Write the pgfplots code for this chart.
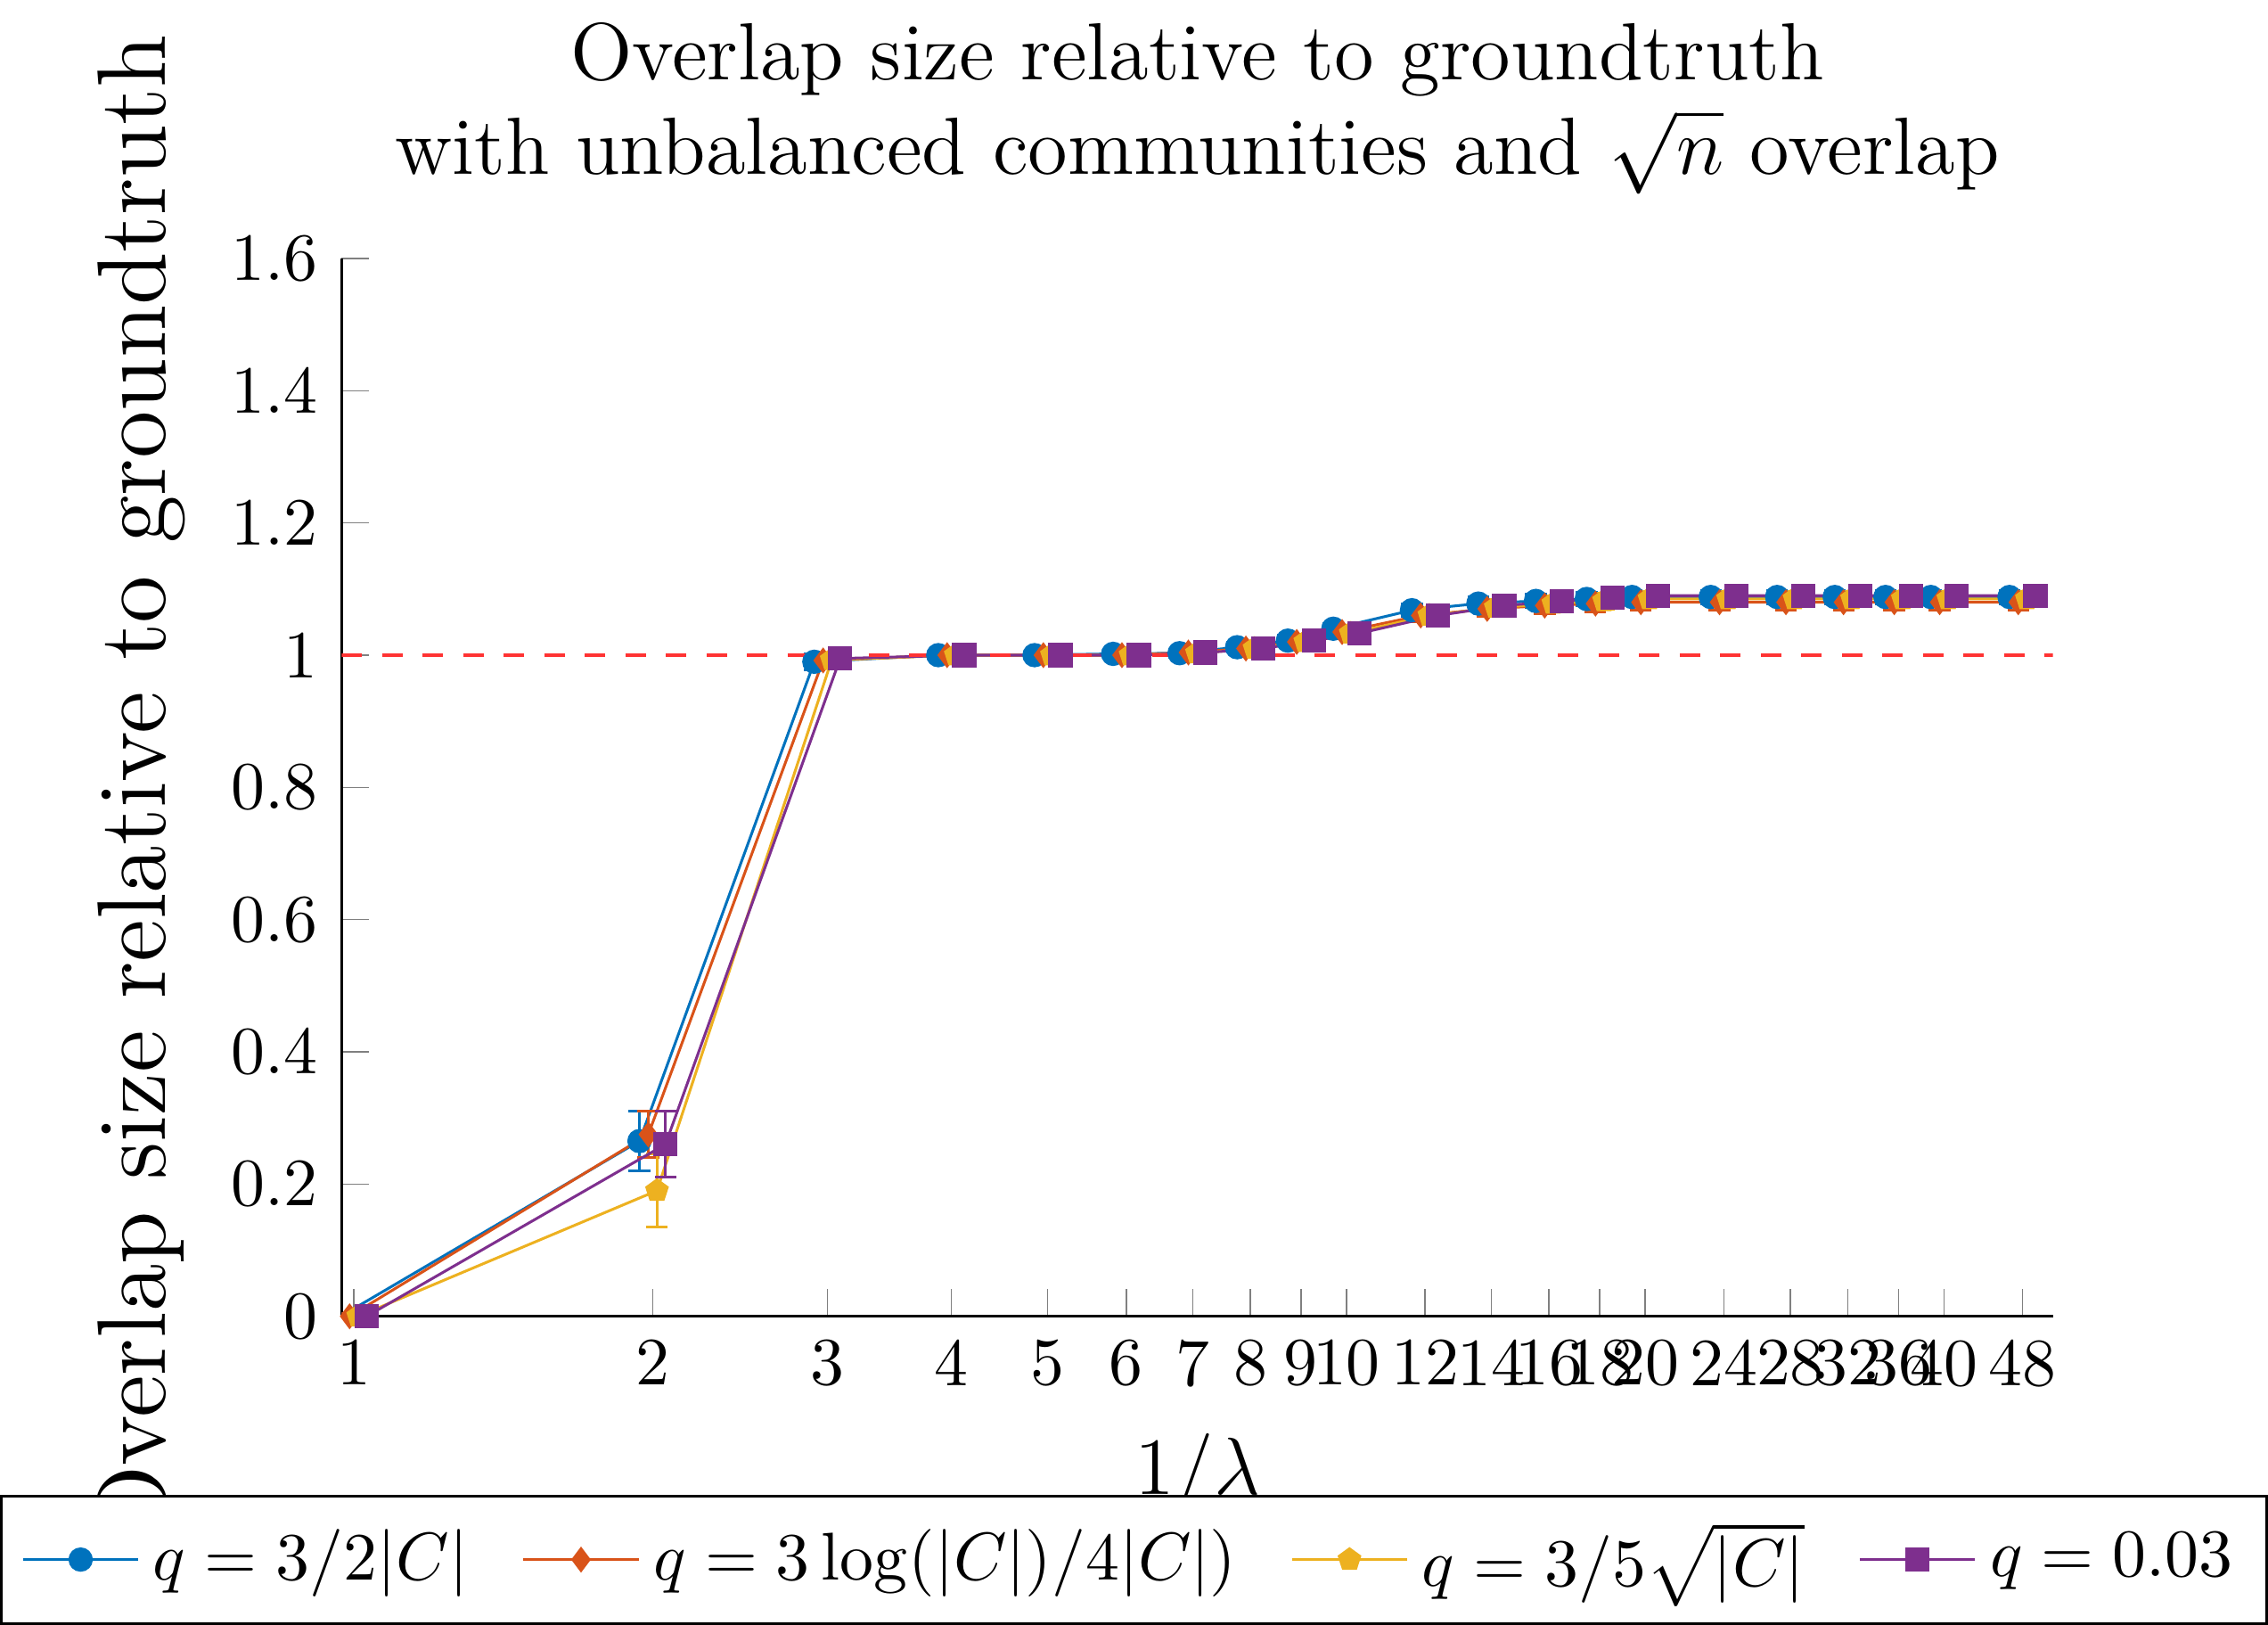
\documentclass[border=0pt]{standalone}
\usepackage{pgfplots}
\pgfplotsset{compat=1.18}
\definecolor{c1}{rgb}{0,0.447,0.741}
\definecolor{c2}{rgb}{0.85,0.325,0.098}
\definecolor{c3}{rgb}{0.929,0.694,0.125}
\definecolor{c4}{rgb}{0.494,0.184,0.556}
\begin{document}
\begin{tikzpicture}
\begin{axis}[
  scale only axis, width=8.9cm, height=5.5cm,
  xmode=log, xmin=0.972, xmax=51.5, ymin=0, ymax=1.6,
  axis x line*=bottom, axis y line*=left,
  xtick={1,2,3,4,5,6,7,8,9,10,12,14,16,18,20,24,28,32,36,40,48},
  xticklabels={1,2,3,4,5,6,7,8,9,10,12,14,16,18,20,24,28,32,36,40,48},
  ytick={0,0.2,0.4,0.6,0.8,1,1.2,1.4,1.6},
  yticklabels={0,0.2,0.4,0.6,0.8,1,1.2,1.4,1.6},
  tick align=inside, major tick length=4pt,
  title style={align=center, font=\large},
  title={Overlap size relative to groundtruth\\with unbalanced communities and $\sqrt{n}$ overlap},
  xlabel={\large $1/\lambda$}, ylabel={\Large Overlap size relative to groundtruth},
  legend columns=4,
  legend style={at={(0.463,-0.23)}, anchor=center, draw=black, /tikz/every even column/.append style={column sep=6pt}},
  every axis plot/.append style={thin, mark size=1.6pt},
  error bars/y dir=both, error bars/y explicit,
]
\addplot[c1, mark=*] coordinates {(0.97,0)+-(0,0.004) (1.94,0.265)+-(0,0.045) (2.91,0.99)+-(0,0.012) (3.88,1.0)+-(0,0.004) (4.85,1.0)+-(0,0.004) (5.82,1.002)+-(0,0.005) (6.79,1.003)+-(0,0.006) (7.76,1.012)+-(0,0.007) (8.73,1.022)+-(0,0.008) (9.7,1.04)+-(0,0.008) (11.64,1.068)+-(0,0.01) (13.58,1.078)+-(0,0.01) (15.52,1.082)+-(0,0.01) (17.46,1.085)+-(0,0.01) (19.4,1.088)+-(0,0.01) (23.28,1.088)+-(0,0.01) (27.16,1.088)+-(0,0.01) (31.04,1.088)+-(0,0.01) (34.92,1.088)+-(0,0.01) (38.8,1.088)+-(0,0.01) (46.56,1.088)+-(0,0.01)};
\addplot[c2, mark=diamond*] coordinates {(0.99,0)+-(0,0.004) (1.98,0.275)+-(0,0.035) (2.97,0.992)+-(0,0.01) (3.96,1.0)+-(0,0.004) (4.95,1.0)+-(0,0.004) (5.94,1.0)+-(0,0.005) (6.93,1.004)+-(0,0.006) (7.92,1.01)+-(0,0.007) (8.91,1.02)+-(0,0.008) (9.9,1.035)+-(0,0.008) (11.88,1.06)+-(0,0.01) (13.86,1.07)+-(0,0.012) (15.84,1.075)+-(0,0.012) (17.82,1.078)+-(0,0.012) (19.8,1.08)+-(0,0.012) (23.76,1.08)+-(0,0.012) (27.72,1.08)+-(0,0.012) (31.68,1.08)+-(0,0.012) (35.64,1.08)+-(0,0.012) (39.6,1.08)+-(0,0.012) (47.52,1.08)+-(0,0.012)};
\addplot[c3, mark=pentagon*] coordinates {(1.01,0)+-(0,0.004) (2.02,0.19)+-(0,0.055) (3.03,0.993)+-(0,0.01) (4.04,1.0)+-(0,0.004) (5.05,1.0)+-(0,0.004) (6.06,1.0)+-(0,0.005) (7.07,1.003)+-(0,0.006) (8.08,1.01)+-(0,0.007) (9.09,1.02)+-(0,0.008) (10.1,1.033)+-(0,0.008) (12.12,1.06)+-(0,0.01) (14.14,1.072)+-(0,0.012) (16.16,1.078)+-(0,0.012) (18.18,1.082)+-(0,0.012) (20.2,1.085)+-(0,0.012) (24.24,1.085)+-(0,0.012) (28.28,1.085)+-(0,0.012) (32.32,1.085)+-(0,0.012) (36.36,1.085)+-(0,0.012) (40.4,1.085)+-(0,0.012) (48.48,1.085)+-(0,0.012)};
\addplot[c4, mark=square*] coordinates {(1.03,0)+-(0,0.004) (2.06,0.26)+-(0,0.05) (3.09,0.995)+-(0,0.008) (4.12,1.0)+-(0,0.004) (5.15,1.0)+-(0,0.004) (6.18,1.0)+-(0,0.005) (7.21,1.004)+-(0,0.006) (8.24,1.01)+-(0,0.007) (9.27,1.022)+-(0,0.008) (10.3,1.033)+-(0,0.01) (12.36,1.06)+-(0,0.01) (14.42,1.075)+-(0,0.012) (16.48,1.082)+-(0,0.012) (18.54,1.087)+-(0,0.012) (20.6,1.09)+-(0,0.012) (24.72,1.09)+-(0,0.012) (28.84,1.09)+-(0,0.012) (32.96,1.09)+-(0,0.012) (37.08,1.09)+-(0,0.012) (41.2,1.09)+-(0,0.012) (49.44,1.09)+-(0,0.012)};
\addplot[red!80, dashed, no marks, forget plot, error bars/y dir=none] coordinates {(0.972,1) (51.5,1)};
\legend{$q=3/2|C|$, $q=3\log(|C|)/4|C|)$, $q=3/5\sqrt{|C|}$, $q=0.03$}
\end{axis}
\end{tikzpicture}
\end{document}
